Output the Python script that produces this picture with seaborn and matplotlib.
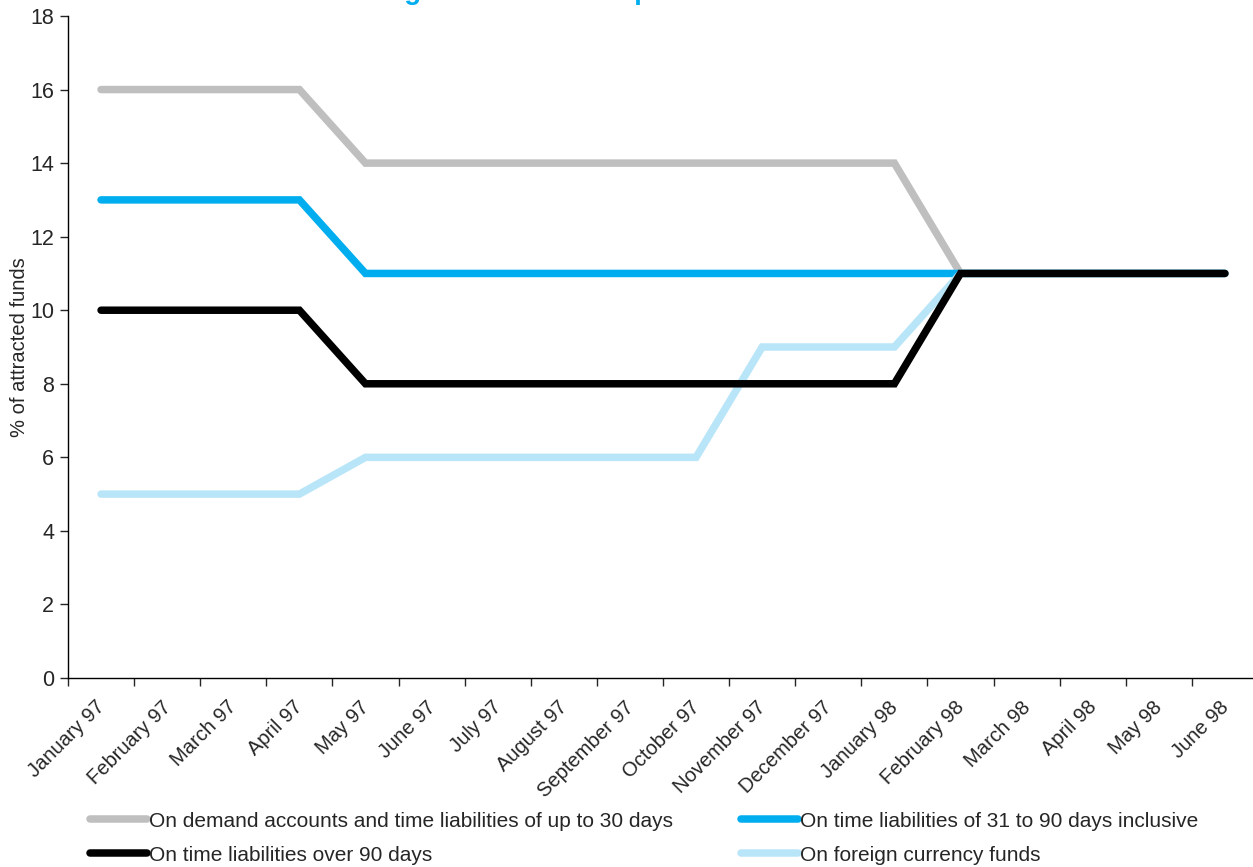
import matplotlib
matplotlib.use("Agg")
import matplotlib.pyplot as plt
import matplotlib.transforms as mtransforms
from matplotlib.lines import Line2D
import numpy as np
import pandas as pd
import seaborn as sns

months = ["January 97", "February 97", "March 97", "April 97", "May 97", "June 97",
          "July 97", "August 97", "September 97", "October 97", "November 97",
          "December 97", "January 98", "February 98", "March 98", "April 98",
          "May 98", "June 98"]

demand_upto_30 = [16, 16, 16, 16, 14, 14, 14, 14, 14, 14, 14, 14, 14, 11, 11, 11, 11, 11]
time_31_90 = [13, 13, 13, 13, 11, 11, 11, 11, 11, 11, 11, 11, 11, 11, 11, 11, 11, 11]
time_over_90 = [10, 10, 10, 10, 8, 8, 8, 8, 8, 8, 8, 8, 8, 11, 11, 11, 11, 11]
foreign_currency = [5, 5, 5, 5, 6, 6, 6, 6, 6, 6, 9, 9, 9, 11, 11, 11, 11, 11]

series_names = ["On demand accounts and time liabilities of up to 30 days",
                "On time liabilities of 31 to 90 days inclusive",
                "On time liabilities over 90 days",
                "On foreign currency funds"]
series_values = [demand_upto_30, time_31_90, time_over_90, foreign_currency]
colors = ["#BFBFBF", "#00AEEF", "#000000", "#B9E5F8"]
zorders = [3, 4, 6, 5]

sns.set_style("white")
plt.rcParams["font.family"] = ["Liberation Sans", "DejaVu Sans"]

fig = plt.figure(figsize=(12.53, 8.67), dpi=100)
ax = fig.add_axes([68 / 1253, 1 - 678 / 867, 1190 / 1253, 662 / 867])

x = np.arange(len(months))
for name, vals, col, z in zip(series_names, series_values, colors, zorders):
    df = pd.DataFrame({"month": x, "value": vals})
    sns.lineplot(data=df, x="month", y="value", ax=ax, color=col, linewidth=5.4,
                 solid_capstyle="round", solid_joinstyle="miter", zorder=z,
                 legend=False)

ax.set_xlim(-0.5, len(months) - 0.5)
ax.set_ylim(0, 18)
ax.set_yticks(np.arange(0, 19, 2))
ax.tick_params(axis="y", labelsize=15.5, length=6, width=1, direction="out", left=True, pad=4)

# boundaries between months carry the tick marks, month centres carry the labels
ax.set_xticks(np.arange(-0.5, len(months) - 0.5, 1.0))
ax.set_xticklabels([])
ax.set_xticks(x, minor=True)
ax.set_xticklabels(months, minor=True, rotation=45, ha="right",
                   rotation_mode="anchor", fontsize=14.5)
ax.tick_params(axis="x", which="major", length=6, width=1, direction="out", bottom=True)
ax.tick_params(axis="x", which="minor", length=0, pad=14)
shift = mtransforms.ScaledTranslation(-6 / 100, 0, fig.dpi_scale_trans)
for lbl in ax.get_xticklabels(minor=True):
    lbl.set_transform(lbl.get_transform() + shift)

for side in ["top", "right"]:
    ax.spines[side].set_visible(False)
for side in ["left", "bottom"]:
    ax.spines[side].set_color("black")
    ax.spines[side].set_linewidth(1)

ax.set_xlabel("")
ax.set_ylabel("% of attracted funds", fontsize=14.5, labelpad=1)

fig.text(0.47, 1 + 1 / 867, "Changes in reserve requirement ratios",
         ha="center", va="baseline", fontsize=20, fontweight="bold", color="#00AEEF")

handles = [Line2D([0], [0], color=c, linewidth=5.4, solid_capstyle="round") for c in colors]
order = [0, 2, 1, 3]
fig.legend([handles[i] for i in order], [series_names[i] for i in order],
           loc="lower left", bbox_to_anchor=(82 / 1253, -6 / 867), ncol=2, frameon=False,
           prop={"size": 15}, handlelength=2.7, handletextpad=0.1,
           columnspacing=3.3, labelspacing=0.72, borderaxespad=0.0)

fig.savefig("out.png", dpi=100)
